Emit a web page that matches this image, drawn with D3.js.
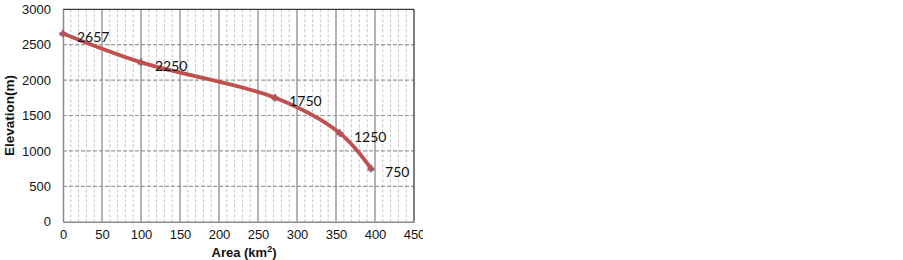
<!DOCTYPE html>
<html>
<head>
<meta charset="utf-8">
<script src="https://cdn.jsdelivr.net/npm/d3@7"></script>
<style>
  html, body { margin: 0; padding: 0; background: #fff; }
  svg { display: block; }
</style>
</head>
<body>
<svg id="chart" width="903" height="260"></svg>
<script>
// ---- data ----
const areas = [0, 100, 272, 355, 395];
const elevations = [2657, 2250, 1750, 1250, 750];
const pointLabels = ["2657", "2250", "1750", "1250", "750"];
const xTicks = [0, 50, 100, 150, 200, 250, 300, 350, 400, 450];
const yTicks = [0, 500, 1000, 1500, 2000, 2500, 3000];
const xMinorTicks = d3.range(0, 451, 10);

const svg = d3.select("#chart");
svg.append("defs").append("clipPath").attr("id", "imgclip")
  .append("rect").attr("x", 0).attr("y", 0).attr("width", 423).attr("height", 260);
const root = svg.append("g").attr("clip-path", "url(#imgclip)");

const L = 63, R = 414, T = 9.3, B = 221.7;
const x = d3.scaleLinear().domain([0, 450]).range([L, R]);
const y = d3.scaleLinear().domain([0, 3000]).range([B, T]);

// minor vertical dashed grid
root.append("g").selectAll("line").data(xMinorTicks.filter(d => d % 50 !== 0)).join("line")
  .attr("x1", d => x(d)).attr("x2", d => x(d)).attr("y1", T).attr("y2", B)
  .attr("stroke", "#c4c4c4").attr("stroke-width", 1).attr("stroke-dasharray", "3,2");

// horizontal dashed grid
root.append("g").selectAll("line").data(yTicks.filter(d => d > 0 && d < 3000)).join("line")
  .attr("x1", L).attr("x2", R).attr("y1", d => y(d)).attr("y2", d => y(d))
  .attr("stroke", "#9a9a9a").attr("stroke-width", 1.2).attr("stroke-dasharray", "4,2");

// major vertical solid grid
root.append("g").selectAll("line").data(xTicks.filter(d => d > 0 && d < 450)).join("line")
  .attr("x1", d => x(d)).attr("x2", d => x(d)).attr("y1", T).attr("y2", B)
  .attr("stroke", "#8c8c8c").attr("stroke-width", 1.3);

// border: top/right darker
root.append("line").attr("x1", L).attr("x2", R).attr("y1", T).attr("y2", T)
  .attr("stroke", "#3a3a3a").attr("stroke-width", 1.3);
root.append("line").attr("x1", R).attr("x2", R).attr("y1", T).attr("y2", B)
  .attr("stroke", "#3a3a3a").attr("stroke-width", 1.3);

// axes
const xAxis = d3.axisBottom(x).tickValues(xTicks).tickSize(0).tickPadding(8).tickFormat(d3.format("d"));
const yAxis = d3.axisLeft(y).tickValues(yTicks).tickSize(0).tickPadding(12).tickFormat(d3.format("d"));
const gx = root.append("g").attr("transform", `translate(0,${B})`).call(xAxis);
const gy = root.append("g").attr("transform", `translate(${L},0)`).call(yAxis);
[gx, gy].forEach(g => {
  g.select(".domain").attr("stroke", "#8a8a8a").attr("stroke-width", 1.5);
  g.selectAll("text").attr("font-family", "Liberation Sans, Arial, sans-serif")
    .attr("font-size", 13).attr("fill", "#111");
});

// line
const pts = areas.map((a, i) => [a, elevations[i]]);
const line = d3.line().x(d => x(d[0])).y(d => y(d[1])).curve(d3.curveCatmullRom);

// markers (blue plus under red line)
root.append("g").selectAll("path").data(pts).join("path")
  .attr("transform", d => `translate(${x(d[0])},${y(d[1])})`)
  .attr("d", d3.symbol(d3.symbolCross, 30)())
  .attr("fill", "#4f81bd");

root.append("path").datum(pts).attr("d", line)
  .attr("fill", "none").attr("stroke", "#c0504d").attr("stroke-width", 3.8)
  .attr("stroke-linecap", "round");

root.append("g").selectAll("path").data(pts).join("path")
  .attr("transform", d => `translate(${x(d[0])},${y(d[1])})`)
  .attr("d", d3.symbol(d3.symbolTriangle, 24)())
  .attr("fill", "#c0504d");

// point labels
root.append("g").selectAll("text").data(pts).join("text")
  .attr("x", d => x(d[0]) + 14).attr("y", d => y(d[1]) + 8.5)
  .attr("font-family", "Lato, 'Open Sans', sans-serif").attr("font-size", 14)
  .attr("fill", "#111")
  .text((d, i) => pointLabels[i]);

// axis titles
root.append("text").attr("transform", `translate(13.5,${(T + B) / 2}) rotate(-90)`)
  .attr("text-anchor", "middle")
  .attr("font-family", "Liberation Sans, Arial, sans-serif").attr("font-weight", "bold")
  .attr("font-size", 13.5).attr("fill", "#111").text("Elevation(m)");

const xt = root.append("text").attr("x", 244).attr("y", 257)
  .attr("text-anchor", "middle")
  .attr("font-family", "Liberation Sans, Arial, sans-serif").attr("font-weight", "bold")
  .attr("font-size", 13).attr("fill", "#111");
xt.append("tspan").text("Area (km");
xt.append("tspan").attr("font-size", 9).attr("dy", -5).text("2");
xt.append("tspan").attr("dy", 5).text(")");
</script>
</body>
</html>
